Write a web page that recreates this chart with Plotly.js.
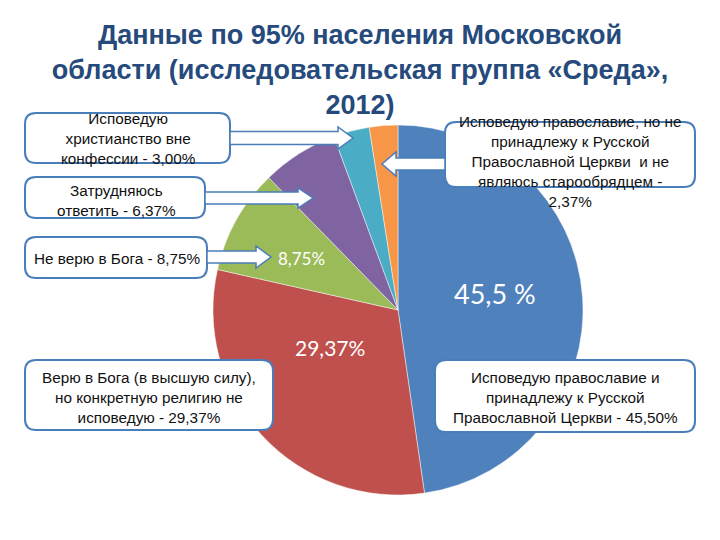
<!DOCTYPE html>
<html>
<head>
<meta charset="utf-8">
<script src="https://cdn.plot.ly/plotly-3.0.1.min.js"></script>
<style>
  html, body { margin: 0; padding: 0; background: #fff; }
  #chart { width: 720px; height: 540px; }
</style>
</head>
<body>
<div id="chart"></div>
<script>
// Данные по 95% населения Московской области — pie with callouts

const labels = [
    'Исповедую православие и принадлежу к Русской Православной Церкви',
    'Верю в Бога (в высшую силу), но конкретную религию не исповедую',
    'Не верю в Бога',
    'Затрудняюсь ответить',
    'Исповедую христианство вне конфессии',
    'Исповедую православие, но не принадлежу к Русской Православной Церкви и не являюсь старообрядцем',
];
const values = [45.5, 29.37, 8.75, 6.37, 3.00, 2.37];
const colors = ['#4f81bd', '#c0504d', '#9bbb59', '#8064a2', '#4bacc6', '#f79646'];
const sliceText = ['45,5 %', '29,37%', '8,75%'];

const calloutText = [
    'Исповедую православие и<br>принадлежу к Русской<br>Православной Церкви - 45,50%',
    'Верю в Бога (в высшую силу),<br>но конкретную религию не<br>исповедую - 29,37%',
    'Не верю в Бога - 8,75%',
    'Затрудняюсь<br>ответить - 6,37%',
    'Исповедую<br>христианство вне<br>конфессии - 3,00%',
    'Исповедую православие, но не<br>принадлежу к Русской<br>Православной Церкви  и не<br>являюсь старообрядцем -<br>2,37%',
];

const W = 720, H = 540;
const BORDER = '#4a7ebb';
const px = x => x / W;
const py = y => 1 - y / H;

function roundRect(x0, y0, x1, y1, r) {
    const p = (x, y) => `${px(x)},${py(y)}`;
    return `M${p(x0 + r, y0)} L${p(x1 - r, y0)} Q${p(x1, y0)} ${p(x1, y0 + r)}` +
           ` L${p(x1, y1 - r)} Q${p(x1, y1)} ${p(x1 - r, y1)}` +
           ` L${p(x0 + r, y1)} Q${p(x0, y1)} ${p(x0, y1 - r)}` +
           ` L${p(x0, y0 + r)} Q${p(x0, y0)} ${p(x0 + r, y0)} Z`;
}

// block arrow: from x0 to tip x1 at centre y; shaft half-height sh, head half-height hh, head length hl
function blockArrow(x0, x1, y, sh, hh, hl) {
    const d = Math.sign(x1 - x0);
    const hb = x1 - d * hl;
    const p = (x, yy) => `${px(x)},${py(yy)}`;
    return `M${p(x0, y - sh)} L${p(hb, y - sh)} L${p(hb, y - hh)} L${p(x1, y)}` +
           ` L${p(hb, y + hh)} L${p(hb, y + sh)} L${p(x0, y + sh)} Z`;
}

const boxes = [
    { x0: 435, y0: 360, x1: 695, y1: 432 },
    { x0: 25,  y0: 360, x1: 273, y1: 430 },
    { x0: 25,  y0: 237, x1: 207, y1: 278 },
    { x0: 25,  y0: 177, x1: 205, y1: 218 },
    { x0: 25,  y0: 113, x1: 230, y1: 163 },
    { x0: 445, y0: 122, x1: 695, y1: 187 },
];

const arrows = [
    { x0: 230, x1: 353, y: 138, sh: 6.5, hh: 11, hl: 15 },
    { x0: 205, x1: 313, y: 198, sh: 6, hh: 10, hl: 15 },
    { x0: 207, x1: 271, y: 257, sh: 6, hh: 11, hl: 15 },
    { x0: 445, x1: 382, y: 164, sh: 6, hh: 12, hl: 14 },
];

const shapes = [];
boxes.forEach(b => shapes.push({
    type: 'path', xref: 'paper', yref: 'paper',
    path: roundRect(b.x0, b.y0, b.x1, b.y1, 11),
    fillcolor: '#ffffff', line: { color: BORDER, width: 2 },
}));
arrows.forEach(a => shapes.push({
    type: 'path', xref: 'paper', yref: 'paper',
    path: blockArrow(a.x0, a.x1, a.y, a.sh, a.hh, a.hl),
    fillcolor: '#ffffff', line: { color: BORDER, width: 1.5 },
}));

const textFont = { family: '"Liberation Sans", Arial, sans-serif', size: 15.3, color: '#111' };
const textPos = [
    { x: 565, y: 397 },
    { x: 149, y: 397 },
    { x: 117, y: 258 },
    { x: 116, y: 200 },
    { x: 128, y: 138 },
    { x: 570, y: 161 },
];
const annotations = calloutText.map((t, i) => ({
    xref: 'paper', yref: 'paper',
    x: px(textPos[i].x), y: py(textPos[i].y),
    xanchor: 'center', yanchor: 'middle', align: 'center',
    text: t, showarrow: false,
    font: textFont,
}));

const labelPos = [
    { x: 495, y: 293, size: 27 },
    { x: 330, y: 347, size: 21 },
    { x: 301, y: 258, size: 17 },
];
sliceText.forEach((t, i) => annotations.push({
    xref: 'paper', yref: 'paper',
    x: px(labelPos[i].x), y: py(labelPos[i].y),
    xanchor: 'center', yanchor: 'middle',
    text: t, showarrow: false,
    font: { family: 'Lato, "Open Sans", sans-serif', size: labelPos[i].size, color: '#ffffff' },
}));

const trace = {
    type: 'pie',
    labels: labels,
    values: values,
    sort: false,
    direction: 'clockwise',
    rotation: 0,
    textinfo: 'none',
    hoverinfo: 'label+value',
    marker: { colors: colors, line: { color: 'rgba(255,255,255,0.45)', width: 1 } },
    domain: { x: [px(213), px(583)], y: [py(495), py(125)] },
    showlegend: false,
};

const layout = {
    width: W, height: H,
    margin: { l: 0, r: 0, t: 0, b: 0 },
    paper_bgcolor: '#ffffff',
    title: {
        text: 'Данные по 95% населения Московской<br>области (исследовательская группа «Среда»,<br>2012)',
        font: { family: '"Liberation Sans", Arial, sans-serif', size: 27, color: '#254a7b', weight: 'bold' },
        x: 0.5, xanchor: 'center',
        y: py(44), yanchor: 'top',
    },
    shapes: shapes,
    annotations: annotations,
};

Plotly.newPlot('chart', [trace], layout, { displayModeBar: false });
</script>
</body>
</html>
